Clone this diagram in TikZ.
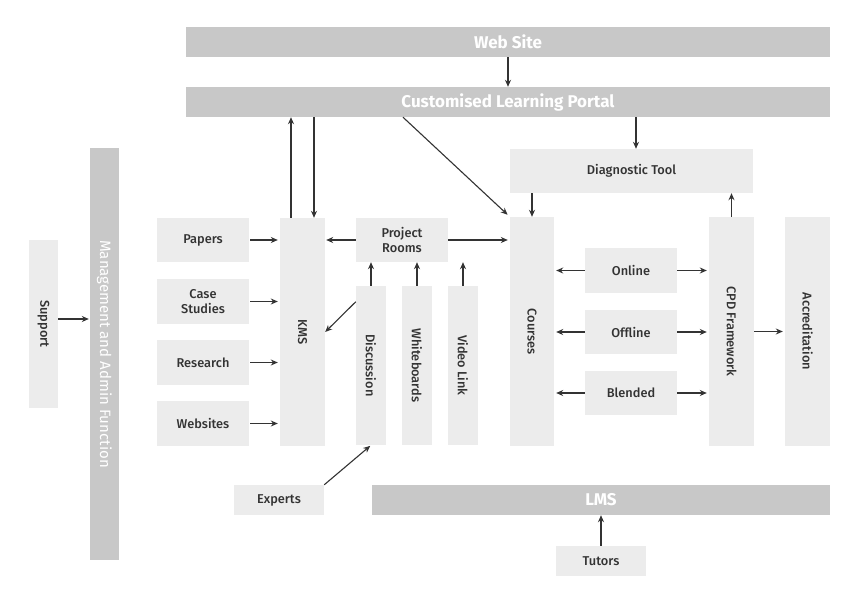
\documentclass[tikz,border=0pt]{standalone}
\usepackage{fontspec}
\setmainfont{Fira Sans}
\newfontfamily\medfont{Fira Sans Medium}
\usetikzlibrary{arrows.meta,calc}
\definecolor{boxfill}{HTML}{ECECEC}
\definecolor{barfill}{HTML}{C8C8C8}
\definecolor{ink}{HTML}{333333}
\begin{document}
% Upright boxes use the usual anchors; the vertical boxes (rotate=-90) have
% west = top edge, east = bottom edge, south = left edge, north = right edge.
\begin{tikzpicture}[x=1pt,y=-1pt,
  box/.style={fill=boxfill,draw=none,inner sep=0pt,align=center,text=ink,
    font=\fontsize{12.8}{14.5}\selectfont\medfont},
  bar/.style={fill=barfill,draw=none,inner sep=0pt,text=white,
    font=\fontsize{17}{19}\selectfont\bfseries},
  vbox/.style={box,rotate=-90},
  arr/.style={draw=ink,line width=1.1pt,-{Stealth[length=7pt,width=6pt]}}]
\useasboundingbox[fill=white] (0,0) rectangle (844,597);

% top bars
\node[bar,minimum width=644,minimum height=30] (web) at (508,42) {Web Site};
\node[bar,minimum width=644,minimum height=30] (portal) at (508,102) {Customised Learning Portal};

% left side
\node[vbox,minimum width=168,minimum height=29] (support) at (43.5,324) {Support};
\node[vbox,fill=barfill,text=white,font=\fontsize{15}{17}\selectfont,
  minimum width=412,minimum height=29] (mgmt) at (104.5,354) {Management and Admin Function};

% content sources
\node[box,minimum width=92,minimum height=44] (papers) at (203,240) {Papers};
\node[box,minimum width=92,minimum height=45] (case) at (203,301.5) {Case\\Studies};
\node[box,minimum width=92,minimum height=45] (research) at (203,362.5) {Research};
\node[box,minimum width=92,minimum height=45] (websites) at (203,423.5) {Websites};
\node[vbox,minimum width=228,minimum height=45] (kms) at (302.5,332) {KMS};

% collaboration
\node[box,minimum width=92,minimum height=44] (proj) at (402,240) {Project\\Rooms};
\node[vbox,minimum width=159,minimum height=30] (disc) at (371,365.5) {Discussion};
\node[vbox,minimum width=159,minimum height=30] (white) at (417,365.5) {Whiteboards};
\node[vbox,minimum width=159,minimum height=30] (video) at (463,365.5) {Video Link};
\node[box,minimum width=90,minimum height=30] (experts) at (279,500) {Experts};

% learning
\node[vbox,minimum width=229,minimum height=44] (courses) at (532,331.5) {Courses};
\node[box,minimum width=243,minimum height=44] (diag) at (631.5,171) {Diagnostic Tool};
\node[box,minimum width=92,minimum height=45] (online) at (631,270.5) {Online};
\node[box,minimum width=92,minimum height=44] (offline) at (631,332) {Offline};
\node[box,minimum width=92,minimum height=44] (blended) at (631,393) {Blended};
\node[vbox,minimum width=229,minimum height=45] (cpd) at (731.5,331.5) {CPD Framework};
\node[vbox,minimum width=229,minimum height=45] (accr) at (807.5,331.5) {Accreditation};

% bottom
\node[bar,minimum width=458,minimum height=30] (lms) at (601,500) {LMS};
\node[box,minimum width=90,minimum height=30] (tutors) at (601,561) {Tutors};

% connectors
\draw[arr] (web.south) -- (portal.north);
\draw[arr,shorten >=1pt] ([yshift=5]support.north) -- ([yshift=5]support.north -| mgmt.south);
\foreach \n in {papers,case,research,websites}
  \draw[arr,shorten <=1pt,shorten >=2pt] (\n.east) -- (\n.east -| kms.south);
\draw[arr] ([xshift=-11.5]kms.west) -- ([xshift=-11.5]kms.west |- portal.south);
\draw[arr] ([xshift=11.5]kms.west |- portal.south) -- ([xshift=11.5]kms.west);
\draw[arr,shorten >=1pt] (proj.west) -- (proj.west -| kms.north);
\draw[arr,shorten >=2pt] (proj.east) -- (proj.east -| courses.south);
\foreach \n in {disc,white,video}
  \draw[arr] (\n.west) -- (\n.west |- proj.south);
\draw[arr] ($(disc.south west)!0.1!(disc.south east)$) -- (kms.north);
\draw[arr,shorten >=1pt] (experts.north east) -- (disc.east);
\draw[arr,shorten >=3pt] ($(portal.south west)!0.337!(portal.south east)$) -- (courses.south west);
\draw[arr] ([xshift=4.5]diag.north |- portal.south) -- ([xshift=4.5]diag.north);
\draw[arr] (courses.west |- diag.south) -- (courses.west);
\draw[arr] (cpd.west) -- (cpd.west |- diag.south);
\foreach \n in {online,offline,blended}{
  \draw[arr,shorten >=2pt] (\n.west) -- (\n.west -| courses.north);
  \draw[arr,shorten >=2pt] (\n.east) -- (\n.east -| cpd.south);
}
\draw[arr,shorten >=2pt] (cpd.north) -- (cpd.north -| accr.south);
\draw[arr] (tutors.north) -- (lms.south);
\end{tikzpicture}
\end{document}
